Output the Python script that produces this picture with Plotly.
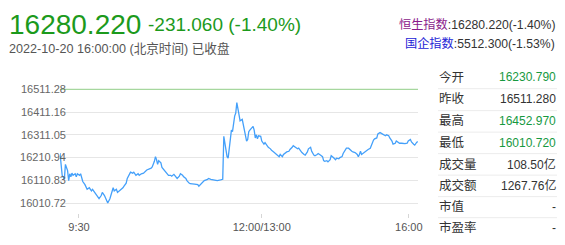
import plotly.graph_objects as go

# ---------------- data ----------------
last_price = "16280.220"
change_text = "-231.060 (-1.40%)"
date_text = "2022-10-20 16:00:00 (北京时间) 已收盘"
index_names = ["恒生指数", "国企指数"]
index_values = [":16280.220(-1.40%)", ":5512.300(-1.53%)"]

prev_close = 16511.28

minutes = [0, 2, 4, 5, 7, 8, 9, 10, 11, 12, 14, 15, 16, 18, 19, 21, 23, 25, 27, 29,
           30, 32, 33, 35, 36, 38, 39, 41, 42, 44, 46, 47, 49, 50, 52, 53, 55, 56, 58, 59,
           61, 62, 64, 65, 67, 68, 70, 72, 73, 75, 77, 79, 80, 84, 85, 87, 88, 89, 90, 91,
           93, 94, 96, 97, 99, 100, 102, 103, 105, 107, 108, 110, 111, 113, 114, 116, 117, 119, 120, 124,
           127, 128, 130, 131, 133, 136, 137, 139, 142, 145, 148, 150, 151, 152, 153, 154, 155, 156, 157, 158,
           159, 160, 161, 162, 163, 165, 166, 168, 169, 171, 172, 173, 174, 175, 177, 178, 179, 180, 181, 182,
           183, 185, 186, 188, 189, 191, 192, 194, 195, 197, 199, 200, 202, 203, 205, 206, 208, 209, 211, 212,
           214, 215, 217, 219, 220, 222, 223, 225, 226, 228, 229, 231, 232, 234, 235, 237, 238, 240, 242, 243,
           244, 246, 247, 249, 250, 252, 254, 255, 257, 258, 260, 261, 263, 264, 266, 267, 269, 270, 272, 274,
           275, 276, 277, 278, 280, 281, 283, 284, 286, 287, 289, 290, 292, 293, 295, 297, 298, 300, 301, 303,
           304, 306, 307, 309, 310, 312, 313, 315, 317, 318, 320, 321, 323, 324, 326, 327, 329, 330]

prices = [16230.79, 16132.6, 16114.8, 16180.6, 16153.2, 16109.3, 16139.5, 16125.8, 16142.2, 16132.6,
          16139.5, 16125.8, 16139.5, 16132.6, 16139.5, 16105.2, 16091.5, 16070.9, 16077.8, 16064.1,
          16070.9, 16057.2, 16050.3, 16036.6, 16029.8, 16043.5, 16057.2, 16043.5, 16029.8, 16010.72,
          16029.8, 16050.3, 16077.8, 16064.1, 16070.9, 16057.2, 16064.1, 16070.9, 16077.8, 16084.6,
          16098.3, 16118.9, 16139.5, 16146.4, 16142.2, 16146.4, 16132.6, 16139.5, 16132.6, 16139.5,
          16142.2, 16153.2, 16156.0, 16164.2, 16169.7, 16194.4, 16214.9, 16201.2, 16180.6, 16197.1,
          16187.5, 16166.9, 16156.0, 16146.4, 16139.5, 16132.6, 16132.6, 16128.5, 16136.8, 16125.8,
          16118.9, 16128.5, 16139.5, 16132.6, 16125.8, 16118.9, 16109.3, 16098.3, 16095.6, 16094.2,
          16091.5, 16084.6, 16095.6, 16101.1, 16109.3, 16114.8, 16118.9, 16114.8, 16112.1, 16109.3,
          16112.1, 16114.8, 16304.1, 16276.7, 16249.2, 16214.9, 16208.1, 16249.2, 16304.1, 16331.5,
          16324.7, 16372.7, 16393.3, 16407.0, 16452.97, 16400.1, 16372.7, 16379.5, 16359.0, 16317.8,
          16283.5, 16290.4, 16324.7, 16331.5, 16345.2, 16348.0, 16331.5, 16297.2, 16311.0, 16293.1,
          16306.8, 16304.1, 16283.5, 16269.8, 16276.7, 16263.0, 16256.1, 16249.2, 16242.4, 16235.5,
          16228.7, 16224.5, 16214.9, 16224.5, 16214.9, 16224.5, 16232.8, 16235.5, 16238.3, 16246.5,
          16256.1, 16263.0, 16256.1, 16249.2, 16252.0, 16238.3, 16232.8, 16224.5, 16221.8, 16235.5,
          16249.2, 16256.1, 16238.3, 16221.8, 16219.0, 16224.5, 16228.7, 16221.8, 16214.9, 16197.1,
          16194.4, 16197.1, 16191.6, 16201.2, 16219.0, 16210.8, 16201.2, 16208.1, 16205.3, 16210.8,
          16214.9, 16228.7, 16242.4, 16252.0, 16252.0, 16246.5, 16238.3, 16235.5, 16232.8, 16224.5,
          16214.9, 16224.5, 16238.3, 16224.5, 16232.8, 16238.3, 16242.4, 16246.5, 16252.0, 16265.7,
          16287.6, 16293.1, 16297.2, 16315.1, 16320.6, 16315.1, 16310.9, 16306.8, 16310.9, 16306.8,
          16297.2, 16283.5, 16269.8, 16273.9, 16283.5, 16279.4, 16273.9, 16273.9, 16272.5, 16272.5,
          16273.9, 16283.5, 16290.4, 16279.4, 16269.8, 16265.7, 16279.4, 16280.22]

y_tick_values = [16010.72, 16110.832, 16210.944, 16311.056, 16411.168, 16511.28]
y_tick_labels = ["16010.72", "16110.83", "16210.94", "16311.05", "16411.16", "16511.28"]

x_tick_labels = ["9:30", "12:00/13:00", "16:00"]
x_tick_positions = [17.5, 186.0, 321.5]

table_labels = ["今开", "昨收", "最高", "最低", "成交量", "成交额", "市值", "市盈率"]
table_values = ["16230.790", "16511.280", "16452.970", "16010.720", "108.50亿", "1267.76亿", "-", "-"]
table_value_colors = ["#17993f", "#333333", "#17993f", "#17993f", "#333333", "#333333", "#333333", "#333333"]

# ---------------- layout helpers ----------------
W, H = 565, 245
ML, MR, MT, MB = 60, 147, 84, 23
PW = W - ML - MR
PH = H - MT - MB
FONT = "Arial, Liberation Sans, Noto Sans CJK SC, sans-serif"
GREEN = "#1c9a1c"


def X(px):
    return (px - ML) / PW


def Y(py):
    return (H - MB - py) / PH


fig = go.Figure()
fig.add_trace(go.Scatter(x=[minutes[0], minutes[-1]], y=[prev_close, prev_close], mode="lines",
                         line=dict(color="#a6d79e", width=1.3), hoverinfo="skip"))
fig.add_trace(go.Scatter(x=minutes, y=prices, mode="lines",
                         line=dict(color="#44a0fa", width=1.3)))

ann = []


def add_text(px, py, text, size, color, anchor):
    ann.append(dict(x=X(px), y=Y(py), xref="paper", yref="paper", text=text, showarrow=False,
                    xanchor=anchor, yanchor="middle", font=dict(size=size, color=color, family=FONT)))


add_text(7, 20, last_price, 28, GREEN, "left")
add_text(146, 20.5, change_text, 19, GREEN, "left")
add_text(7, 46, date_text, 12.6, "#555555", "left")
name_colors = ["#8a1a8a", "#2323d6"]
for i, (nm, val) in enumerate(zip(index_names, index_values)):
    add_text(557, 20.5 + 20 * i, f"<span style='color:{name_colors[i]}'>{nm}</span>{val}",
             12.2, "#333333", "right")

row_y = [77, 100.5, 123.5, 147, 170, 193, 215.5, 238]
for i, (lb, vl) in enumerate(zip(table_labels, table_values)):
    add_text(437, row_y[i], lb, 12.5, "#333333", "left")
    add_text(558, row_y[i], vl, 12, table_value_colors[i], "right")

shapes = []
for sy in [89, 112.5, 135.5, 158.5, 181.5, 204.5, 227]:
    shapes.append(dict(type="line", xref="paper", yref="paper", x0=X(438), x1=X(557), y0=Y(sy), y1=Y(sy),
                       line=dict(color="#ececec", width=1)))

fig.update_layout(
    width=W, height=H,
    margin=dict(l=ML, r=MR, t=MT, b=MB, pad=0),
    paper_bgcolor="white", plot_bgcolor="white",
    showlegend=False,
    annotations=ann,
    shapes=shapes,
    font=dict(family=FONT),
    xaxis=dict(range=[0, 330], tickvals=x_tick_positions, ticktext=x_tick_labels,
               ticks="outside", ticklen=4, tickcolor="#d6d6d6", tickwidth=1,
               showgrid=False, zeroline=False, showline=False,
               tickfont=dict(size=11, color="#555555", family=FONT), fixedrange=True),
    yaxis=dict(range=[15966.7, 16534.7], tickvals=y_tick_values, ticktext=y_tick_labels,
               showgrid=True, gridcolor="#e6e6e6", gridwidth=1, zeroline=False, showline=False,
               ticks="", ticklabelstandoff=-7,
               tickfont=dict(size=11, color="#666666", family=FONT), fixedrange=True),
)

fig.write_html("out.html", config={"displayModeBar": False})
